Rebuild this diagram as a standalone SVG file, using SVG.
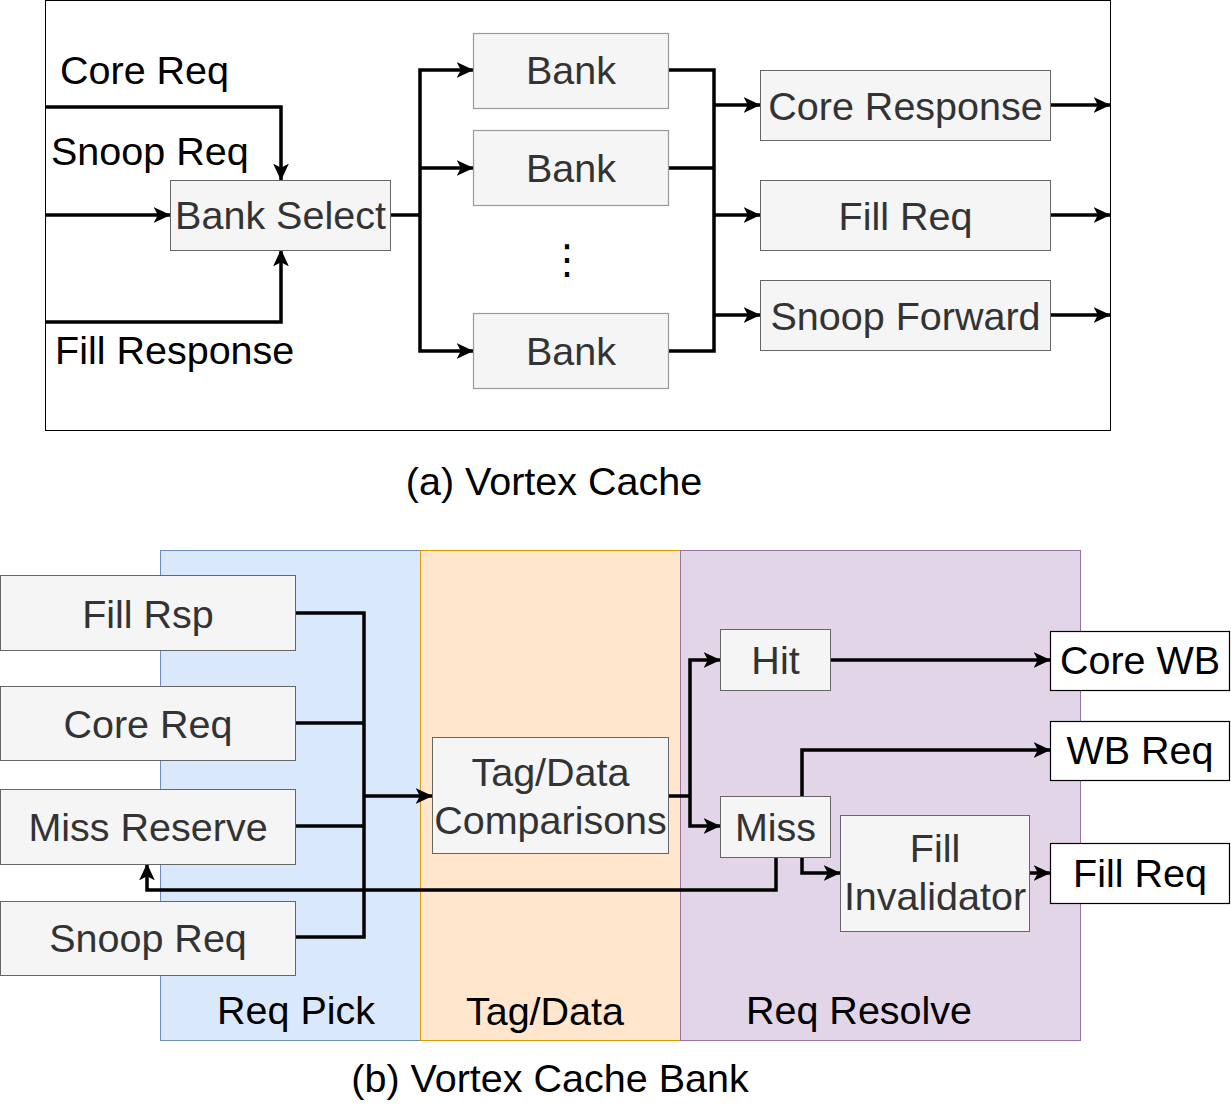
<svg xmlns="http://www.w3.org/2000/svg" width="1231" height="1105" viewBox="0 0 1231 1105">
<style>
text{font-family:"Liberation Sans",Arial,Helvetica,sans-serif;font-size:39.5px}
.t{fill:#333333;text-anchor:middle}
.l{fill:#000000}
.c{fill:#000000;text-anchor:middle}
.box{fill:#f5f5f5;stroke:#666666;stroke-width:1}
.bank{fill:#f5f5f5;stroke:#999999;stroke-width:1.2}
.wbox{fill:#ffffff;stroke:#000000;stroke-width:1.2}
.con path{fill:none;stroke:#000000;stroke-width:3.5}
.ar{marker-end:url(#arr)}
</style>
<defs>
<marker id="arr" markerUnits="userSpaceOnUse" viewBox="0 0 14 14" refX="13.5" refY="7" markerWidth="17" markerHeight="17" orient="auto">
<path d="M0,0.5 L14,7 L0,13.5 L3.5,7 Z" fill="#000000"/>
</marker>
</defs>
<rect width="1231" height="1105" fill="#ffffff"/>
<g id="frame-a"><rect x="45.5" y="0.5" width="1065" height="430" fill="#ffffff" stroke="#000000" stroke-width="1"/></g>
<g id="stage-reqpick"><rect x="160.5" y="550.5" width="260" height="490" fill="#dae8fc" stroke="#6c8ebf" stroke-width="1"/><text class="c" x="296" y="1024">Req Pick</text></g>
<g id="stage-tagdata"><rect x="420.5" y="550.5" width="260" height="490" fill="#ffe6cc" stroke="#d79b00" stroke-width="1"/><text class="c" x="545" y="1025">Tag/Data</text></g>
<g id="stage-reqresolve"><rect x="680.5" y="550.5" width="400" height="490" fill="#e1d5e7" stroke="#9673a6" stroke-width="1"/><text class="c" x="859" y="1024">Req Resolve</text></g>
<g class="con" id="connectors">
<path class="ar" d="M45,107 H281 V180"/>
<path class="ar" d="M45,215 H170"/>
<path class="ar" d="M45,322 H281 V250"/>
<path d="M390,215 H420"/>
<path class="ar" d="M420,215 V70 H473"/>
<path class="ar" d="M420,168 H473"/>
<path class="ar" d="M420,215 V351 H473"/>
<path d="M668,70 H714 V351 H668"/>
<path d="M668,168 H714"/>
<path class="ar" d="M714,105 H760"/>
<path class="ar" d="M714,215 H760"/>
<path class="ar" d="M714,315 H760"/>
<path class="ar" d="M1050,105 H1110"/>
<path class="ar" d="M1050,215 H1110"/>
<path class="ar" d="M1050,315 H1110"/>
<path d="M295,613 H364 V937 H295"/>
<path d="M295,723 H364"/>
<path d="M295,826 H364"/>
<path class="ar" d="M364,796 H432"/>
<path d="M669,796 H690"/>
<path class="ar" d="M690,796 V660 H720"/>
<path class="ar" d="M690,796 V826 H720"/>
<path class="ar" d="M830,660 H1050"/>
<path class="ar" d="M802,796 V750 H1050"/>
<path class="ar" d="M802,857 V873 H840"/>
<path class="ar" d="M1029,873 H1050"/>
<path class="ar" d="M776,857 V890 H147 V864"/>
</g>
<g id="label-corereq"><text class="l" x="60" y="84">Core Req</text></g>
<g id="label-snoopreq"><text class="l" x="51" y="165">Snoop Req</text></g>
<g id="label-fillresponse"><text class="l" x="55" y="364">Fill Response</text></g>
<g id="bank-select"><rect class="box" x="170.5" y="180.5" width="220" height="70"/><text class="t" x="280.5" y="228.5">Bank Select</text></g>
<g id="bank-1"><rect class="bank" x="473.5" y="33.5" width="195" height="75"/><text class="t" x="571" y="84">Bank</text></g>
<g id="bank-2"><rect class="bank" x="473.5" y="130.5" width="195" height="75"/><text class="t" x="571" y="182">Bank</text></g>
<g id="dots"><text x="567" y="273" style="font-family:'DejaVu Sans',sans-serif;font-size:40px;fill:#000000;text-anchor:middle">⋮</text></g>
<g id="bank-3"><rect class="bank" x="473.5" y="313.5" width="195" height="75"/><text class="t" x="571" y="365">Bank</text></g>
<g id="core-response"><rect class="box" x="760.5" y="70.5" width="290" height="70"/><text class="t" x="905.5" y="119.5">Core Response</text></g>
<g id="fill-req-a"><rect class="box" x="760.5" y="180.5" width="290" height="70"/><text class="t" x="905.5" y="229.5">Fill Req</text></g>
<g id="snoop-forward"><rect class="box" x="760.5" y="280.5" width="290" height="70"/><text class="t" x="905.5" y="329.5">Snoop Forward</text></g>
<g id="caption-a"><text class="c" x="554" y="495">(a) Vortex Cache</text></g>
<g id="fill-rsp"><rect class="box" x="0.5" y="575.5" width="295" height="75"/><text class="t" x="148" y="628">Fill Rsp</text></g>
<g id="core-req-b"><rect class="box" x="0.5" y="686.5" width="295" height="74"/><text class="t" x="148" y="738">Core Req</text></g>
<g id="miss-reserve"><rect class="box" x="0.5" y="789.5" width="295" height="75"/><text class="t" x="148" y="841">Miss Reserve</text></g>
<g id="snoop-req-b"><rect class="box" x="0.5" y="901.5" width="295" height="74"/><text class="t" x="148" y="952">Snoop Req</text></g>
<g id="tag-data-comp"><rect class="box" x="432.5" y="737.5" width="236" height="116"/><text class="t" x="550.5" y="786">Tag/Data</text><text class="t" x="550.5" y="834">Comparisons</text></g>
<g id="hit"><rect class="box" x="720.5" y="629.5" width="110" height="61"/><text class="t" x="775.5" y="674">Hit</text></g>
<g id="miss"><rect class="box" x="720.5" y="796.5" width="110" height="61"/><text class="t" x="775.5" y="841">Miss</text></g>
<g id="fill-invalidator"><rect class="box" x="840.5" y="815.5" width="189" height="116"/><text class="t" x="935" y="862">Fill</text><text class="t" x="935" y="910">Invalidator</text></g>
<g id="core-wb"><rect class="wbox" x="1050.5" y="631.5" width="179" height="59"/><text class="c" x="1140" y="674">Core WB</text></g>
<g id="wb-req"><rect class="wbox" x="1050.5" y="721.5" width="179" height="59"/><text class="c" x="1140" y="764">WB Req</text></g>
<g id="fill-req-b"><rect class="wbox" x="1050.5" y="843.5" width="179" height="60"/><text class="c" x="1140" y="887">Fill Req</text></g>
<g id="caption-b"><text class="c" x="550" y="1092">(b) Vortex Cache Bank</text></g>
</svg>
